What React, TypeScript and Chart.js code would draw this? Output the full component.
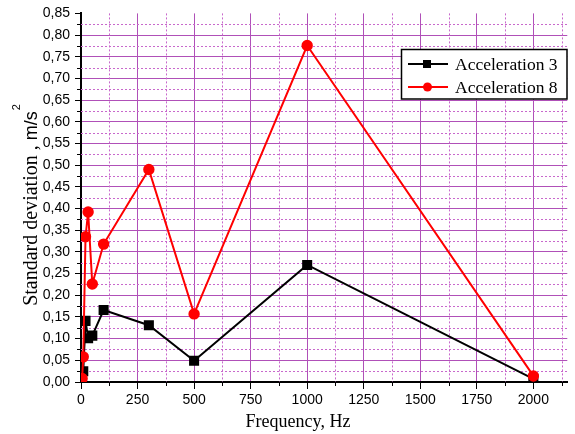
import React, { useEffect, useRef } from 'react';
import { Chart, registerables } from 'chart.js';

Chart.register(...registerables);

// ---- data ----
const freqA3 = [10, 20, 31.5, 50, 100, 300, 500, 1000, 2000];
const accel3 = [0.025, 0.141, 0.101, 0.107, 0.166, 0.131, 0.049, 0.27, 0.007];
const freqA8 = [5, 10, 20, 31.5, 50, 100, 300, 500, 1000, 2000];
const accel8 = [0.008, 0.058, 0.335, 0.392, 0.226, 0.318, 0.49, 0.157, 0.776, 0.014];
const seriesLabels = ['Acceleration 3', 'Acceleration 8'];
const seriesColors = ['#000000', '#ff0000'];
const seriesMarkers = ['rect', 'circle'];
const xTickStep = 250;
const xMinorStep = 125;
const xMax = 2150;
const yMax = 0.85;
const yTickStep = 0.05;
const yMinorStep = 0.025;
const xTitle = 'Frequency, Hz';
const yTitle = 'Standard deviation , ';
const yUnit = 'm/s';
const yUnitExp = '2';

const GRID = '#b050b8';
const GRID_MINOR = '#c868cc';
const SERIF = '"Liberation Serif", "Times New Roman", serif';
const SANS = '"Liberation Sans", Arial, sans-serif';

function toPoints(xs: number[], ys: number[]) {
  return xs.map((x, i) => ({ x, y: ys[i] }));
}

const extrasPlugin = {
  id: 'extras',
  beforeDatasetsDraw(chart: any) {
    const { ctx, chartArea, scales } = chart;
    const xs = scales.x;
    const ys = scales.y;
    ctx.save();
    // minor grid lines (dotted)
    ctx.strokeStyle = GRID_MINOR;
    ctx.lineWidth = 1;
    ctx.setLineDash([2, 2]);
    for (let v = yMinorStep; v < yMax; v += 2 * yMinorStep) {
      const py = Math.round(ys.getPixelForValue(v)) + 0.5;
      ctx.beginPath();
      ctx.moveTo(chartArea.left, py);
      ctx.lineTo(chartArea.right, py);
      ctx.stroke();
    }
    for (let v = xMinorStep; v < xMax; v += 2 * xMinorStep) {
      const px = Math.round(xs.getPixelForValue(v)) + 0.5;
      ctx.beginPath();
      ctx.moveTo(px, chartArea.top);
      ctx.lineTo(px, chartArea.bottom);
      ctx.stroke();
    }
    ctx.setLineDash([]);
    // minor ticks
    ctx.strokeStyle = '#000';
    ctx.lineWidth = 1;
    for (let v = yMinorStep; v < yMax; v += 2 * yMinorStep) {
      const py = Math.round(ys.getPixelForValue(v)) + 0.5;
      ctx.beginPath();
      ctx.moveTo(chartArea.left - 4, py);
      ctx.lineTo(chartArea.left, py);
      ctx.stroke();
    }
    for (let v = xMinorStep; v < xMax; v += 2 * xMinorStep) {
      const px = Math.round(xs.getPixelForValue(v)) + 0.5;
      ctx.beginPath();
      ctx.moveTo(px, chartArea.bottom);
      ctx.lineTo(px, chartArea.bottom + 4);
      ctx.stroke();
    }
    ctx.restore();
  },
  afterDraw(chart: any) {
    const { ctx } = chart;
    ctx.save();
    // x title
    ctx.fillStyle = '#000';
    ctx.font = '18px ' + SERIF;
    ctx.textAlign = 'center';
    ctx.textBaseline = 'alphabetic';
    ctx.fillText(xTitle, 298, 427);

    // y title (rotated)
    ctx.save();
    ctx.font = '20px ' + SERIF;
    const w1 = ctx.measureText(yTitle).width;
    ctx.font = '18px ' + SANS;
    const w2 = ctx.measureText(yUnit).width;
    ctx.font = '11px ' + SANS;
    const w3 = ctx.measureText(yUnitExp).width;
    const total = w1 + w2 + w3 + 1;
    ctx.translate(37, 205 + total / 2);
    ctx.rotate(-Math.PI / 2);
    ctx.textAlign = 'left';
    ctx.font = '20px ' + SERIF;
    ctx.fillText(yTitle, 0, 0);
    ctx.font = '18px ' + SANS;
    ctx.fillText(yUnit, w1, 0);
    ctx.font = '11px ' + SANS;
    ctx.fillText(yUnitExp, w1 + w2 + 1, -17);
    ctx.restore();

    // legend
    const bx = 401.5, by = 49.5, bw = 165.5, bh = 49.5;
    ctx.fillStyle = '#fff';
    ctx.fillRect(bx, by, bw, bh);
    ctx.strokeStyle = '#000';
    ctx.lineWidth = 1.5;
    ctx.strokeRect(bx, by, bw, bh);
    const rows = [64, 87];
    seriesLabels.forEach((label, i) => {
      const cy = rows[i];
      ctx.strokeStyle = seriesColors[i];
      ctx.fillStyle = seriesColors[i];
      ctx.lineWidth = 2;
      ctx.beginPath();
      ctx.moveTo(408, cy);
      ctx.lineTo(448, cy);
      ctx.stroke();
      if (seriesMarkers[i] === 'rect') {
        ctx.fillRect(427 - 4, cy - 4, 8, 8);
      } else {
        ctx.beginPath();
        ctx.arc(427.5, cy, 4.5, 0, Math.PI * 2);
        ctx.fill();
      }
      ctx.fillStyle = '#000';
      ctx.font = '17.5px ' + SERIF;
      ctx.textAlign = 'left';
      ctx.textBaseline = 'middle';
      ctx.fillText(label, 455, cy + 1);
    });
    ctx.restore();
  },
};

export default function App() {
  const ref = useRef<HTMLCanvasElement | null>(null);
  useEffect(() => {
    if (!ref.current) return;
    const chart = new Chart(ref.current, {
      type: 'line',
      data: {
        datasets: [
          {
            label: seriesLabels[0],
            data: toPoints(freqA3, accel3),
            borderColor: seriesColors[0],
            backgroundColor: seriesColors[0],
            pointBackgroundColor: seriesColors[0],
            pointBorderColor: seriesColors[0],
            pointStyle: 'rect',
            pointRadius: 5.7,
            borderWidth: 2,
            tension: 0,
            order: 2,
          },
          {
            label: seriesLabels[1],
            data: toPoints(freqA8, accel8),
            borderColor: seriesColors[1],
            backgroundColor: seriesColors[1],
            pointBackgroundColor: seriesColors[1],
            pointBorderColor: seriesColors[1],
            pointStyle: 'circle',
            pointRadius: 4.7,
            borderWidth: 2,
            tension: 0,
            order: 1,
          },
        ],
      },
      options: {
        responsive: false,
        animation: false,
        layout: { padding: { top: 13, right: 5, left: 0, bottom: 0 } },
        plugins: {
          legend: { display: false },
          tooltip: { enabled: false },
          title: { display: false },
        },
        scales: {
          x: {
            type: 'linear',
            min: 0,
            max: xMax,
            afterFit: (s: any) => {
              s.height = 52;
            },
            ticks: {
              stepSize: xTickStep,
              includeBounds: false,
              autoSkip: false,
              maxRotation: 0,
              padding: 3,
              color: '#000',
              font: { family: SANS, size: 14 },
              callback: (v: any) => String(v),
            },
            grid: {
              color: (c: any) => (c.tick && c.tick.value === 0 ? 'rgba(0,0,0,0)' : GRID),
              lineWidth: 1,
              tickColor: '#000',
              tickLength: 7,
              tickWidth: 1,
            },
            border: { display: true, color: '#000', width: 2 },
          },
          y: {
            type: 'linear',
            min: 0,
            max: yMax,
            afterFit: (s: any) => {
              s.width = 81;
            },
            ticks: {
              stepSize: yTickStep,
              autoSkip: false,
              padding: 5,
              color: '#000',
              font: { family: SANS, size: 14 },
              callback: (v: any) => Number(v).toFixed(2).replace('.', ','),
            },
            grid: {
              color: (c: any) =>
                c.tick && Math.abs(c.tick.value - yMax) < 1e-9 ? 'rgba(0,0,0,0)' : GRID,
              lineWidth: 1,
              tickColor: '#000',
              tickLength: 6,
              tickWidth: 1,
            },
            border: { display: true, color: '#000', width: 2 },
          },
        },
      },
      plugins: [extrasPlugin],
    } as any);
    return () => chart.destroy();
  }, []);
  return (
    <div style={{ position: 'fixed', left: 0, top: 0, width: 575, height: 434, background: '#fff' }}>
      <canvas ref={ref} width={575} height={434} style={{ width: 575, height: 434, display: 'block' }} />
    </div>
  );
}
